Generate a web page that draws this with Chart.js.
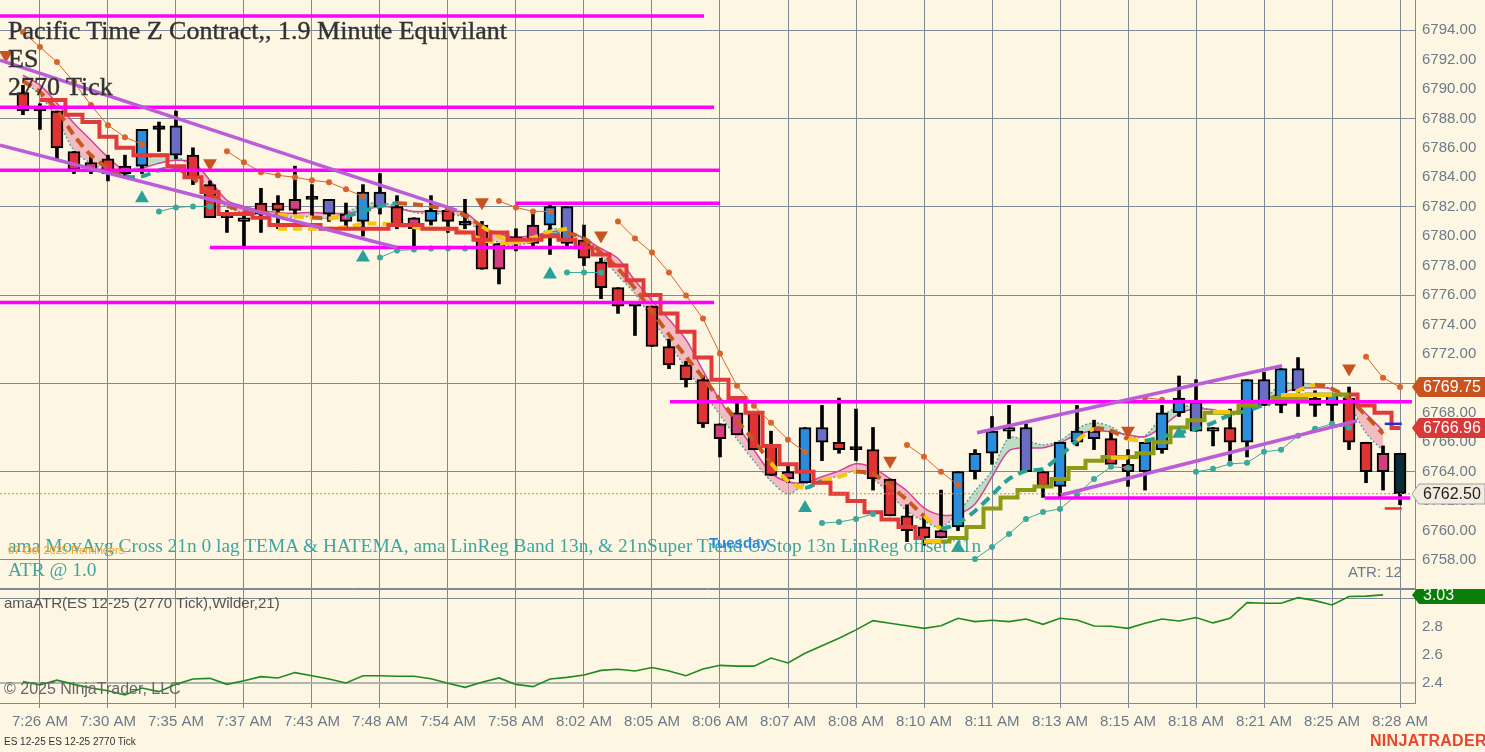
<!DOCTYPE html>
<html>
<head>
<meta charset="utf-8">
<title>ES 12-25 2770 Tick</title>
<script src="https://cdn.jsdelivr.net/npm/chart.js@4.4.1/dist/chart.umd.min.js"></script>
<style>
  html, body { margin: 0; padding: 0; }
  body { width: 1485px; height: 752px; overflow: hidden; position: relative; background: #fdf6e3;
         font-family: "Liberation Sans", Arial, sans-serif; }
  #priceWrap { position: absolute; left: 0; top: 0; width: 1485px; height: 589px; }
  #atrWrap { position: absolute; left: 0; top: 589px; width: 1485px; height: 163px; }
  .txt { position: absolute; white-space: nowrap; z-index: 5; }
  .serif { font-family: "Liberation Serif", "Times New Roman", serif; }
  .title { font-size: 26px; line-height: 28px; color: #333; left: 8px; -webkit-text-stroke: 0.4px #333; }
  .ind { font-size: 19.4px; line-height: 24px; color: #3ba7a0; left: 8px; }
</style>
</head>
<body>
<div id="priceWrap"><canvas id="price"></canvas></div>
<div id="atrWrap"><canvas id="atr"></canvas></div>

<div class="txt serif title" style="top:17px">Pacific Time Z Contract,, 1.9 Minute Equivilant</div>
<div class="txt serif title" style="top:45px">ES</div>
<div class="txt serif title" style="top:73px">2770 Tick</div>
<div class="txt serif ind" style="top:534px">ama MovAvg Cross 21n 0 lag TEMA &amp; HATEMA, ama LinReg Band 13n, &amp; 21nSuper Trend U Stop 13n LinReg offset 21n</div>
<div class="txt serif ind" style="top:558px">ATR @ 1.0</div>
<div class="txt" style="top:544px;left:8px;font-size:11px;line-height:13px;color:#f0a024">07 Oct 2025 Reminders:</div>
<div class="txt" style="top:534px;left:709px;font-size:15px;line-height:18px;color:#2a89e0;font-weight:bold">Tuesday</div>
<div class="txt" style="top:563px;left:1348px;font-size:15px;line-height:18px;color:#6c7a89">ATR: 12</div>
<div class="txt" style="top:594px;left:4px;font-size:15px;line-height:18px;color:#555">amaATR(ES 12-25 (2770 Tick),Wilder,21)</div>
<div class="txt" style="top:679px;left:4px;font-size:16px;line-height:19px;color:#666">© 2025 NinjaTrader, LLC</div>
<div class="txt" style="top:736px;left:4px;font-size:10px;line-height:12px;color:#333">ES 12-25 ES 12-25 2770 Tick</div>
<div class="txt" style="top:731px;left:1370px;font-size:16px;line-height:20px;color:#e8452c;font-weight:bold;letter-spacing:0.3px">NINJATRADER</div>

<script>
// ---- candles (one per 2770-tick bar) ----
const opens = [6789.75, 6788.5, 6788.5, 6785.75, 6785.0, 6785.25, 6784.25, 6784.75, 6787.5, 6785.5,
  6785.5, 6783.5, 6781.5, 6781.25, 6782.25, 6782.25, 6781.75, 6782.5, 6781.5, 6781.5,
  6781.0, 6782.0, 6782.0, 6781.25, 6781.0, 6781.75, 6781.0, 6780.75, 6779.5, 6779.75,
  6779.5, 6780.75, 6779.5, 6779.75, 6778.25, 6776.5, 6775.25, 6775.25, 6772.5, 6771.25,
  6770.25, 6767.25, 6766.5, 6768.0, 6765.75, 6764.0, 6763.25, 6766.0, 6766.0, 6765.5,
  6765.5, 6763.5, 6761.0, 6760.25, 6759.5, 6760.25, 6764.0, 6765.25, 6767.0, 6764.0,
  6764.0, 6763.0, 6766.0, 6766.25, 6766.25, 6764.5, 6764.0, 6765.5, 6768.0, 6766.75,
  6767.0, 6767.0, 6766.0, 6768.5, 6768.5, 6769.5, 6769.0, 6768.5, 6769.0, 6766.0,
  6765.25, 6765.25];
const highs = [6790.25, 6789.0, 6788.5, 6785.75, 6785.5, 6785.5, 6785.5, 6787.25, 6787.75, 6788.5,
  6786.0, 6783.75, 6781.75, 6781.5, 6783.25, 6782.75, 6784.75, 6783.5, 6782.5, 6782.25,
  6783.5, 6784.25, 6782.75, 6781.25, 6782.75, 6782.0, 6782.5, 6781.0, 6779.5, 6780.5,
  6781.5, 6782.25, 6782.0, 6780.75, 6778.5, 6776.5, 6775.25, 6775.25, 6773.0, 6771.5,
  6770.5, 6767.25, 6768.75, 6768.0, 6766.75, 6764.5, 6767.0, 6768.5, 6769.0, 6768.25,
  6767.0, 6763.5, 6761.75, 6761.0, 6762.75, 6764.0, 6765.5, 6767.75, 6768.5, 6767.25,
  6764.0, 6766.0, 6768.5, 6767.5, 6766.75, 6765.5, 6766.0, 6768.5, 6770.5, 6770.25,
  6767.0, 6768.25, 6770.25, 6770.75, 6771.0, 6771.75, 6769.5, 6769.25, 6769.75, 6766.0,
  6765.75, 6765.25];
const lows = [6788.25, 6787.25, 6785.25, 6784.25, 6784.25, 6783.75, 6784.0, 6784.25, 6785.75, 6785.25,
  6783.5, 6781.25, 6780.25, 6779.25, 6780.25, 6780.5, 6781.5, 6781.25, 6781.0, 6780.5,
  6780.0, 6781.5, 6780.5, 6779.25, 6780.75, 6780.25, 6780.5, 6777.75, 6776.75, 6779.0,
  6779.25, 6778.75, 6779.25, 6778.0, 6775.75, 6774.75, 6773.25, 6772.5, 6771.0, 6769.75,
  6767.0, 6765.0, 6766.5, 6765.5, 6763.75, 6763.25, 6763.25, 6764.75, 6765.25, 6764.75,
  6762.75, 6761.0, 6759.25, 6759.0, 6759.5, 6760.0, 6763.5, 6764.5, 6766.25, 6764.0,
  6762.25, 6762.25, 6765.75, 6765.5, 6764.5, 6763.0, 6762.75, 6765.25, 6767.75, 6766.75,
  6765.75, 6764.75, 6765.0, 6768.5, 6768.0, 6767.75, 6767.75, 6767.25, 6765.5, 6763.25,
  6762.75, 6761.75];
const closes = [6788.5, 6788.5, 6786.0, 6784.5, 6784.5, 6784.25, 6784.75, 6787.25, 6787.25, 6787.5,
  6784.0, 6781.25, 6781.25, 6781.0, 6781.5, 6781.75, 6782.5, 6782.5, 6782.5, 6781.0,
  6783.0, 6783.0, 6780.75, 6780.5, 6781.75, 6781.0, 6780.75, 6777.75, 6777.75, 6779.75,
  6780.75, 6782.0, 6782.0, 6778.5, 6776.5, 6775.25, 6775.25, 6772.5, 6771.25, 6770.25,
  6767.25, 6766.25, 6768.0, 6765.5, 6763.75, 6763.5, 6767.0, 6767.0, 6765.5, 6765.5,
  6763.5, 6761.0, 6760.0, 6759.5, 6760.0, 6764.0, 6765.25, 6766.75, 6766.75, 6767.0,
  6763.0, 6766.0, 6766.75, 6766.75, 6764.5, 6764.0, 6766.0, 6768.0, 6769.0, 6768.75,
  6766.75, 6766.0, 6770.25, 6770.25, 6771.0, 6771.0, 6768.5, 6769.25, 6766.0, 6764.0,
  6764.0, 6762.5];
// paint-bar tone per candle: r red, b blue, s slate, p pink, k cross, n last bar
const barTone = ('rkrrprpbks' + 'rrrrrrpksp' + 'bsrpbrrrpk' + 'pbsrrrkrrr' + 'rpprrpbsrk' +
  'rrrrpbbbbs' + 'rbbsrpbbbs' + 'rrbsbsrbrr' + 'pn').split('');

// ---- x axis labels ----
const timeTickBars = [1, 5, 9, 13, 17, 21, 25, 29, 33, 37, 41, 45, 49, 53, 57, 61, 65, 69, 73, 77, 81];
const timeLabels = ['7:26 AM', '7:30 AM', '7:35 AM', '7:37 AM', '7:43 AM', '7:48 AM', '7:54 AM', '7:58 AM',
  '8:02 AM', '8:05 AM', '8:06 AM', '8:07 AM', '8:08 AM', '8:10 AM', '8:11 AM', '8:13 AM', '8:15 AM',
  '8:18 AM', '8:21 AM', '8:25 AM', '8:28 AM'];
const priceTicks = [6758, 6760, 6762, 6764, 6766, 6768, 6770, 6772, 6774, 6776, 6778, 6780,
  6782, 6784, 6786, 6788, 6790, 6792, 6794];
const priceGridLines = [6758, 6764, 6770, 6776, 6782, 6788, 6794];
const atrTicks = [2.4, 2.6, 2.8, 3.0];
const atrGridLines = [2.4, 3.0];

// ---- LinReg band (hatema / tema) and the MovAvg cross line ----
const bandUpper = [6790.94, 6790.26, 6789.03, 6787.67, 6786.51, 6785.36, 6784.47, 6784.61, 6784.95, 6785.15,
  6785.02, 6783.79, 6782.43, 6782.02, 6781.75, 6781.61, 6781.55, 6781.61, 6781.55, 6781.55,
  6781.75, 6782.02, 6781.89, 6781.68, 6781.68, 6781.68, 6781.61, 6780.66, 6780.18, 6779.91,
  6780.05, 6780.25, 6780.39, 6779.84, 6779.16, 6778.48, 6776.99, 6775.63, 6774.33, 6772.97,
  6770.86, 6768.82, 6767.19, 6765.48, 6763.92, 6763.31, 6763.24, 6763.65, 6764.05, 6764.53,
  6764.26, 6763.51, 6762.69, 6761.54, 6761.06, 6761.13, 6761.81, 6763.65, 6765.42, 6765.62,
  6765.62, 6765.96, 6766.51, 6766.78, 6766.71, 6766.51, 6766.37, 6767.05, 6767.93, 6768.27,
  6768.21, 6768.0, 6768.41, 6768.89, 6769.36, 6769.63, 6769.7, 6769.63, 6768.95, 6767.93,
  6766.78, null];
const bandLower = [6790.6, 6789.58, 6788.01, 6785.83, 6784.95, 6784.47, 6784.13, 6785.02, 6785.56, 6785.42,
  6784.61, 6783.11, 6781.95, 6781.61, 6781.48, 6781.41, 6781.27, 6781.34, 6781.2, 6781.61,
  6782.09, 6782.29, 6782.02, 6781.61, 6781.55, 6781.48, 6781.27, 6780.12, 6779.57, 6779.37,
  6779.71, 6780.52, 6780.25, 6779.78, 6778.62, 6777.33, 6776.1, 6774.4, 6772.7, 6771.06,
  6769.43, 6767.86, 6766.23, 6764.73, 6763.37, 6762.49, 6763.17, 6763.44, 6763.71, 6764.05,
  6763.51, 6762.49, 6761.33, 6760.65, 6760.24, 6761.2, 6762.69, 6764.05, 6766.3, 6766.1,
  6765.82, 6766.1, 6766.91, 6767.32, 6767.05, 6766.37, 6766.44, 6767.73, 6768.41, 6768.41,
  6768.14, 6767.86, 6768.14, 6768.89, 6769.91, 6770.04, 6769.91, 6769.57, 6768.55, 6766.64,
  6765.42, null];
const crossLine = [6790.53, 6789.78, 6788.56, 6786.85, 6785.49, 6784.61, 6784.06, 6784.06, 6784.47, 6784.61,
  6783.93, 6782.91, 6782.09, 6781.75, 6781.61, 6781.48, 6781.34, 6781.27, 6781.2, 6781.34,
  6781.68, 6782.02, 6782.23, 6782.16, 6782.02, 6781.82, 6781.41, 6780.66, 6779.98, 6779.57,
  6779.71, 6780.05, 6780.18, 6779.84, 6778.89, 6777.8, 6776.44, 6774.88, 6773.31, 6771.81,
  6770.38, 6768.89, 6767.46, 6766.1, 6764.6, 6763.37, 6762.9, 6763.37, 6763.65, 6763.99,
  6763.85, 6763.03, 6762.08, 6760.99, 6760.17, 6760.51, 6761.33, 6762.42, 6763.51, 6764.05,
  6764.19, 6765.08, 6766.1, 6766.91, 6766.78, 6766.23, 6766.1, 6766.37, 6766.64, 6766.91,
  6767.32, 6767.86, 6768.14, 6768.55, 6768.95, 6769.5, 6769.91, 6769.63, 6768.95, 6767.8,
  6766.57, null];
// trend of the cross line, as runs of [state, bar count]: d = down, u = up, y = neutral
const crossRuns = [['d', 6], ['u', 3], ['d', 6], ['y', 2], ['d', 1], ['y', 1], ['u', 3], ['d', 5], ['y', 4],
  ['u', 1], ['d', 12], ['y', 2], ['u', 1], ['y', 2], ['d', 4], ['y', 1], ['u', 8], ['y', 1], ['d', 2],
  ['y', 1], ['u', 8], ['y', 2], ['d', 6]];
const crossTone = crossRuns.flatMap(([s, n]) => Array(n).fill(s));
const yellowDash = [null, null, null, null, null, null, null, null, null, null,
  null, null, null, null, null, 6780.5, 6780.5, 6780.5, 6780.5, 6780.6,
  6780.85, 6780.85, 6780.75, 6780.6, 6780.5, 6780.5, 6780.25, 6779.75, 6779.5, 6779.6,
  6779.9, 6780.3, 6780.5, null, null, null, null, null, null, null,
  null, null, null, null, null, null, null, null, null, null,
  null, null, null, null, null, null, null, null, null, null,
  null, null, null, null, null, null, null, null, null, null,
  null, null, null, null, null, null, null, null, null, null,
  null, null];

// ---- Super Trend U stop (down = red, up = olive) ----
const stopDown = [null, 6789.25, 6789.25, 6788.25, 6787.75, 6786.75, 6786.0, 6785.5, 6785.5, 6784.75,
  6784.0, 6783.0, 6781.5, 6781.5, 6781.25, 6780.75, 6780.75, 6780.75, 6780.5, 6780.5,
  6780.5, 6780.5, 6780.75, 6780.75, 6780.5, 6780.5, 6780.25, 6779.75, 6780.25, 6779.75,
  6779.75, 6780.0, 6779.75, 6779.25, 6778.75, 6778.0, 6777.0, 6776.0, 6774.75, 6773.5,
  6771.75, 6770.25, 6769.0, 6768.0, 6765.75, 6764.5, 6764.0, 6763.25, 6762.5, 6762.0,
  6761.25, 6760.75, 6760.25, 6759.5, null, null, null, null, null, null,
  null, null, null, null, null, null, null, null, null, null,
  null, null, null, null, null, null, null, null, 6769.25, 6768.5,
  6768.0, 6766.96];
const stopUp = [null, null, null, null, null, null, null, null, null, null,
  null, null, null, null, null, null, null, null, null, null,
  null, null, null, null, null, null, null, null, null, null,
  null, null, null, null, null, null, null, null, null, null,
  null, null, null, null, null, null, null, null, null, null,
  null, null, null, 6759.25, 6759.25, 6759.5, 6760.25, 6761.5, 6762.25, 6762.75,
  6763.0, 6763.5, 6764.25, 6764.75, 6765.0, 6765.0, 6765.25, 6766.0, 6767.0, 6767.5,
  6768.0, 6768.0, 6768.5, 6768.75, 6769.0, 6769.0, 6769.25, 6769.25, 6769.25, null,
  null, null];
const yellowFlat = [null, null, null, null, null, null, null, null, null, null,
  null, null, null, null, null, null, null, null, null, null,
  null, null, null, null, null, null, null, null, null, null,
  null, null, null, null, null, null, null, null, null, null,
  null, null, null, null, null, null, null, null, null, null,
  null, null, null, 6759.25, 6759.25, null, null, null, null, null,
  null, null, null, null, 6764.95, 6764.95, null, null, null, null,
  6768.05, 6768.05, null, null, 6769.2, 6769.2, 6769.2, 6769.2, null, null,
  null, null];

// ---- trailing dots above (orange) and below (teal) ----
const dotsAbove = [6793.86, 6792.84, 6791.82, 6790.46, 6788.9, 6787.53, 6786.72, 6786.24, null, null,
  null, null, 6785.76, 6785.02, 6784.34, 6784.13, 6784.0, 6783.79, 6783.66, 6783.18,
  6782.7, null, null, null, null, null, null, null, 6782.38, 6781.95,
  6781.68, 6781.68, null, null, null, 6781.0, 6779.84, 6778.89, 6777.53, 6775.97,
  6774.4, 6772.02, 6769.84, 6768.48, 6767.32, 6766.17, 6765.35, null, null, null,
  null, null, 6765.82, 6765.01, 6763.99, 6763.1, null, null, null, null,
  null, null, null, null, null, null, 6769.02, 6768.89, null, null,
  null, null, null, null, null, null, null, null, null, 6771.81,
  6770.38, 6769.75];
const dotsBelow = [null, null, null, null, null, null, null, null, 6781.68, 6781.95,
  6782.02, 6782.02, null, null, null, null, null, null, null, null,
  null, 6778.55, 6779.03, 6779.09, 6779.16, 6779.16, 6779.16, null, null, null,
  null, null, 6777.53, 6777.53, 6777.53, null, null, null, null, null,
  null, null, null, null, null, null, null, 6760.51, 6760.58, 6760.79,
  6761.13, null, null, null, null, null, 6758.07, 6758.88, 6759.77, 6760.79,
  6761.26, 6761.47, 6762.42, 6763.51, 6764.33, 6764.26, null, null, null, 6763.99,
  6764.19, 6764.53, 6764.6, 6765.35, 6765.49, 6766.44, 6766.91, 6767.25, 6766.98, null,
  null, null];

// ---- signal arrows ----
const downArrowBars = [-1, 11, 27, 34, 51, 65, 78];
const downArrowPrices = [6792.3, 6784.95, 6782.3, 6780.05, 6764.74, 6766.78, 6771.0];
const upArrowBars = [7, 20, 31, 46, 55, 68];
const upArrowPrices = [6782.57, 6778.55, 6777.4, 6761.54, 6758.82, 6766.58];

// ---- drawn levels and channels ----
const levelPrices = [6794.95, 6788.76, 6784.47, 6782.23, 6779.23, 6775.49, 6768.75, 6762.22];
const levelFromBar = [-1.35, -1.35, -1.35, 29.0, 11.0, -1.35, 38.06, 60.1];
const levelToBar = [40.06, 40.65, 41.0, 41.0, 32.94, 40.65, 81.7, 81.6];
const channelFromBar = [-1.35, -1.35, 56.12, 61.06];
const channelFromPrice = [6791.96, 6786.17, 6766.64, 6762.42];
const channelToBar = [25.53, 22.0, 74.06, 78.47];
const channelToPrice = [6781.75, 6779.23, 6771.2, 6767.46];
const lastPrice = 6762.5;
const targetMarks = [6767.25, 6761.5];

// ---- ATR (Wilder, 21) ----
const atrValues = [2.41, 2.386, 2.42, 2.39, 2.364, 2.345, 2.314, 2.364, 2.338, 2.39,
  2.428, 2.433, 2.39, 2.416, 2.445, 2.436, 2.474, 2.452, 2.428, 2.40,
  2.452, 2.452, 2.448, 2.448, 2.43, 2.398, 2.369, 2.405, 2.436, 2.39,
  2.374, 2.428, 2.44, 2.457, 2.49, 2.498, 2.486, 2.51, 2.486, 2.452,
  2.50, 2.526, 2.52, 2.52, 2.578, 2.543, 2.612, 2.666, 2.719, 2.779,
  2.845, 2.826, 2.809, 2.79, 2.809, 2.862, 2.838, 2.848, 2.838, 2.857,
  2.819, 2.862, 2.85, 2.807, 2.805, 2.79, 2.826, 2.857, 2.843, 2.867,
  2.829, 2.862, 2.974, 2.969, 2.969, 3.009, 2.988, 2.957, 3.017, 3.02,
  3.029];

// ---- look ----
const sans = '"Liberation Sans", Arial, sans-serif';
const gridCol = '#7d8996';
const axisText = '#6c7a89';
const toneColor = { r: '#e03434', b: '#2b8ddb', s: '#6b6cc4', p: '#d43f7f', k: '#111111', n: '#0c2b38' };
const crossColor = { d: '#c9581f', u: '#25a195', y: '#f4c70c' };
const xMin = -1.35, xMax = 81.88;

const xy = arr => arr.map((v, i) => ({ x: i, y: v }));
const idx = opens.map((_, i) => i);
// keep the plot area flush with the panel edges
const noPad = s => { s.paddingTop = 0; s.paddingBottom = 0; s.paddingLeft = 0; s.paddingRight = 0; };

// price tags on the right axis, plus the panel separator
const tagPlugin = {
  id: 'tags',
  afterDraw(chart, args, opts) {
    const ctx = chart.ctx, ys = chart.scales.y, x0 = chart.chartArea.right;
    (opts.items || []).forEach(t => {
      const y = Math.round(ys.getPixelForValue(t.value));
      const h = t.h || 10;
      ctx.save();
      ctx.beginPath();
      ctx.moveTo(x0 - 3, y);
      ctx.lineTo(x0 + 4, y - h);
      ctx.lineTo(chart.width, y - h);
      ctx.lineTo(chart.width, y + h);
      ctx.lineTo(x0 + 4, y + h);
      ctx.closePath();
      ctx.fillStyle = t.bg;
      ctx.fill();
      if (t.border) { ctx.strokeStyle = t.border; ctx.lineWidth = 1; ctx.stroke(); }
      ctx.fillStyle = t.fg;
      ctx.font = '16px ' + sans;
      ctx.textBaseline = 'middle';
      ctx.fillText(t.text, x0 + 8, y + 1);
      ctx.restore();
    });
    if (opts.edge) {
      const a = chart.chartArea;
      ctx.save();
      ctx.strokeStyle = gridCol;
      ctx.lineWidth = 1;
      ctx.beginPath();
      const ey = opts.edge === 'bottom' ? a.bottom - 0.5 : a.top + 0.5;
      ctx.moveTo(0, ey);
      ctx.lineTo(a.right, ey);
      ctx.stroke();
      ctx.restore();
    }
  }
};

const lineBase = { type: 'line', pointRadius: 0, borderWidth: 1.5, spanGaps: false };

const priceSets = [
  { ...lineBase, label: 'band lower', data: xy(bandLower), borderColor: '#2aa198', borderDash: [2, 2], tension: 0.3, order: 30 },
  { ...lineBase, label: 'band upper', data: xy(bandUpper), borderColor: '#d3439a', tension: 0.3, order: 29,
    fill: { target: 0, above: 'rgba(236,150,172,0.6)', below: 'rgba(140,200,172,0.55)' } },
  { type: 'bar', label: 'wick', data: idx.map(i => ({ x: i, y: [lows[i], highs[i]] })),
    backgroundColor: '#000', barThickness: 3, grouped: false, order: 20 },
  { type: 'bar', label: 'body', data: idx.map(i => ({ x: i, y: [opens[i], closes[i]] })),
    backgroundColor: barTone.map(t => toneColor[t]), borderColor: '#000', borderWidth: 2, borderSkipped: false,
    barThickness: 12, minBarLength: 3, grouped: false, order: 19 },
  { ...lineBase, label: 'yellow', data: xy(yellowDash), borderColor: '#f4c70c', borderWidth: 4, borderDash: [9, 6], order: 13 },
  { ...lineBase, label: 'cross', data: xy(crossLine), borderWidth: 4, borderDash: [10, 6], tension: 0.3, order: 12,
    segment: { borderColor: c => crossColor[crossTone[c.p0DataIndex]] } },
  { ...lineBase, label: 'stop down', data: xy(stopDown), borderColor: '#e03a3a', borderWidth: 4, stepped: 'middle', order: 11 },
  { ...lineBase, label: 'stop up', data: xy(stopUp), borderColor: '#8c9a14', borderWidth: 4, stepped: 'middle', order: 11 },
  { ...lineBase, label: 'flat', data: xy(yellowFlat), borderColor: '#f4c70c', borderWidth: 4, stepped: 'middle', order: 10 },
  { ...lineBase, label: 'dots above', data: xy(dotsAbove), borderColor: '#d9642b', borderWidth: 1,
    pointRadius: 3, pointBackgroundColor: '#d9642b', pointBorderWidth: 0, order: 8 },
  { ...lineBase, label: 'dots below', data: xy(dotsBelow), borderColor: '#3aa89a', borderWidth: 1,
    pointRadius: 3, pointBackgroundColor: '#3aa89a', pointBorderWidth: 0, order: 8 },
  { ...lineBase, label: 'last', data: [{ x: xMin, y: lastPrice }, { x: xMax, y: lastPrice }],
    borderColor: '#c8902f', borderWidth: 1, borderDash: [2, 2], order: 9 },
  { ...lineBase, label: 'down arrows', data: downArrowBars.map((b, i) => ({ x: b, y: downArrowPrices[i] })),
    showLine: false, pointStyle: 'triangle', pointRadius: 8, rotation: 180, pointBackgroundColor: '#c9531f',
    pointBorderWidth: 0, order: 6 },
  { ...lineBase, label: 'up arrows', data: upArrowBars.map((b, i) => ({ x: b, y: upArrowPrices[i] })),
    showLine: false, pointStyle: 'triangle', pointRadius: 8, pointBackgroundColor: '#2aa198',
    pointBorderWidth: 0, order: 6 }
];
levelPrices.forEach((p, i) => priceSets.push({ ...lineBase, label: 'level', borderColor: '#ff00ff', borderWidth: 3.5, order: 4,
  data: [{ x: levelFromBar[i], y: p }, { x: levelToBar[i], y: p }] }));
channelFromBar.forEach((b, i) => priceSets.push({ ...lineBase, label: 'channel', borderColor: '#bb5cd9', borderWidth: 3.5, order: 3,
  data: [{ x: b, y: channelFromPrice[i] }, { x: channelToBar[i], y: channelToPrice[i] }] }));
targetMarks.forEach((p, i) => priceSets.push({ ...lineBase, label: 'mark', borderColor: i === 0 ? '#1f2fe0' : '#e03030',
  borderWidth: 2.5, order: 2, data: [{ x: 80.1, y: p }, { x: 81.1, y: p }] }));

new Chart(document.getElementById('price'), {
  type: 'line',
  data: { datasets: priceSets },
  plugins: [tagPlugin],
  options: {
    responsive: true, maintainAspectRatio: false, animation: false,
    layout: { padding: 0, autoPadding: false },
    plugins: {
      legend: { display: false }, tooltip: { enabled: false },
      tags: {
        edge: 'bottom',
        items: [
          { value: 6769.75, text: '6769.75', bg: '#c9531f', fg: '#fff' },
          { value: 6766.96, text: '6766.96', bg: '#d93838', fg: '#fff' },
          { value: 6762.5, text: '6762.50', bg: '#f1ecdd', fg: '#222', border: '#9aa0a6' }
        ]
      }
    },
    scales: {
      x: {
        type: 'linear', min: xMin, max: xMax, offset: false,
        afterBuildTicks: s => { s.ticks = timeTickBars.map(v => ({ value: v })); },
        afterFit: s => { s.height = 0; noPad(s); },
        ticks: { display: false },
        grid: { color: gridCol, drawTicks: false, offset: false },
        border: { display: false }
      },
      y: {
        position: 'right', min: 6756.03, max: 6796.04,
        afterFit: s => { s.width = 70; noPad(s); },
        afterBuildTicks: s => { s.ticks = priceTicks.map(v => ({ value: v })); },
        ticks: { color: axisText, font: { size: 15, family: sans }, padding: 7, callback: v => v.toFixed(2) },
        grid: { drawTicks: false, color: c => (c.tick && priceGridLines.includes(c.tick.value)) ? gridCol : 'rgba(0,0,0,0)' },
        border: { display: true, color: gridCol }
      }
    }
  }
});

new Chart(document.getElementById('atr'), {
  type: 'line',
  data: { datasets: [
    { ...lineBase, label: 'ATR', data: xy(atrValues), borderColor: '#1f8a1f', borderWidth: 1.6 }
  ] },
  plugins: [tagPlugin],
  options: {
    responsive: true, maintainAspectRatio: false, animation: false,
    layout: { padding: 0, autoPadding: false },
    plugins: {
      legend: { display: false }, tooltip: { enabled: false },
      tags: { edge: 'top', items: [{ value: 3.03, text: '3.03', bg: '#0b7d0b', fg: '#fff', h: 9 }] }
    },
    scales: {
      x: {
        type: 'linear', min: xMin, max: xMax, offset: false,
        afterBuildTicks: s => { s.ticks = timeTickBars.map(v => ({ value: v })); },
        afterFit: s => { s.height = 49; noPad(s); },
        ticks: { color: axisText, font: { size: 15, family: sans }, padding: 5, maxRotation: 0, autoSkip: false,
          callback: (v, i) => timeLabels[i] },
        grid: { color: gridCol, tickLength: 5, offset: false },
        border: { display: true, color: gridCol }
      },
      y: {
        position: 'right', min: 2.257, max: 3.071,
        afterFit: s => { s.width = 70; noPad(s); },
        afterBuildTicks: s => { s.ticks = atrTicks.map(v => ({ value: v })); },
        ticks: { color: axisText, font: { size: 15, family: sans }, padding: 7, callback: v => v >= 3 ? '' : v.toFixed(1) },
        grid: { drawTicks: false,
          color: c => (c.tick && c.tick.value === 2.4) ? 'rgba(168,176,170,0.9)' : (c.tick && atrGridLines.includes(c.tick.value)) ? gridCol : 'rgba(0,0,0,0)',
          lineWidth: c => (c.tick && c.tick.value === 2.4) ? 2 : 1 },
        border: { display: true, color: gridCol }
      }
    }
  }
});
</script>
</body>
</html>
